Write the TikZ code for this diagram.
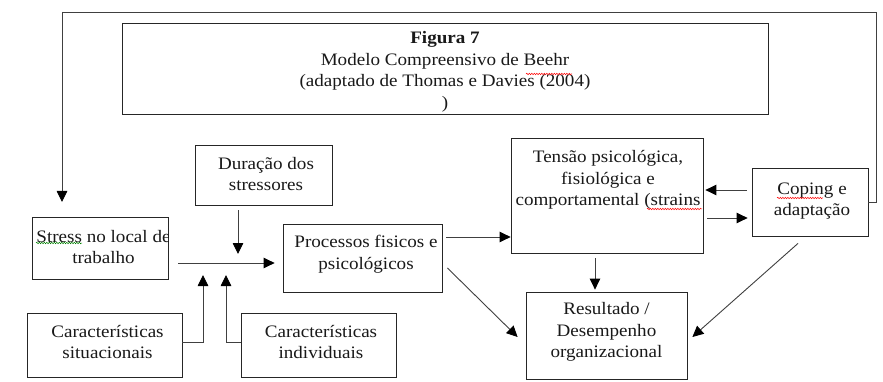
\documentclass[tikz,border=0pt]{standalone}
\usepackage{fontspec}
\setmainfont{Liberation Serif}[FakeStretch=1.09]
\usetikzlibrary{arrows.meta,calc,decorations.pathmorphing}
\begin{document}
\begin{tikzpicture}[x=1pt,y=-1pt,
  box/.style={draw=black!85, line width=0.8pt, inner sep=0pt},
  txt/.style={align=center, inner sep=0pt, font=\fontsize{17.5}{21.5}\selectfont, text=black!90},
  arr/.style={draw=black!75, line width=0.9pt, -{Triangle[length=11pt,width=10.5pt,color=black]}},
  ln/.style={draw=black!75, line width=0.9pt},
  squig/.style={line width=0.5pt, decorate, decoration={snake, amplitude=0.7pt, segment length=2.5pt}}]
\useasboundingbox (0,0) rectangle (883,382);
\fill[white] (0,0) rectangle (883,382);

% boxes
\node[box, minimum width=646pt, minimum height=91pt] (title) at (445,68.5) {};
\node[box, minimum width=136pt, minimum height=62pt] (stress) at (100,248) {};
\node[box, minimum width=137pt, minimum height=60pt] (dur) at (263.5,175) {};
\node[box, minimum width=159pt, minimum height=68pt] (proc) at (362.5,258) {};
\node[box, minimum width=155pt, minimum height=64pt] (csit) at (104.5,345) {};
\node[box, minimum width=155pt, minimum height=64pt] (cind) at (318.5,345) {};
\node[box, minimum width=192pt, minimum height=115pt] (tensao) at (607,195.5) {};
\node[box, minimum width=161pt, minimum height=87pt] (result) at (606.5,335.5) {};
\node[box, minimum width=116pt, minimum height=68pt] (coping) at (810,202) {};

% texts
\node[txt] (titletxt) at (445,72) {\textbf{Figura 7}\\Modelo Compreensivo de Beehr\\(adaptado de Thomas e Davies (2004)\\)};
\begin{scope}
  \clip (stress.south west) rectangle (stress.north east);
  \node[txt] (stresstxt) at (103.5,247) {Stress no local de\\trabalho};
\end{scope}
\node[txt] (durtxt) at (266,174) {Duração dos\\stressores};
\node[txt] (proctxt) at (366,254) {Processos fisicos e\\psicológicos};
\node[txt] (csittxt) at (107.5,342) {Características\\situacionais};
\node[txt] (cindtxt) at (321,342) {Características\\individuais};
\begin{scope}
  \clip (tensao.south west) rectangle (tensao.north east);
  \node[txt] (tensaotxt) at (608,180) {Tensão psicológica,\\fisiológica e\\comportamental (strains};
\end{scope}
\node[txt] (resulttxt) at (606.5,332) {Resultado /\\Desempenho\\organizacional};
\node[txt] (copingtxt) at (812,201) {Coping e\\adaptação};

% spell-check squiggles
\draw[squig, red] (526,74) -- (572,74);
\draw[squig, green!50!black] (36,243) -- (82,243);
\draw[squig, red] (647,209) -- (702,209);
\draw[squig, red] (777,198) -- (823,198);

% feedback loop
\coordinate (fbR) at (876,12);
\coordinate (fbL) at (62,12);
\coordinate (fbTip) at (62,202);
\draw[ln] (coping.east) -- (coping.east -| fbR) -- (fbR) -- (fbL);
\draw[arr] (fbL) -- (fbTip);

% connectors
\coordinate (hstart) at (178,263);
\draw[arr] (hstart) -- ($(proc.west |- hstart)+(-8,0)$);
\draw[arr, shorten <=5pt] (dur.south -| 238,0) -- (238,254);
\draw[arr] (csit.east |- 0,342) -- (203,342) -- (203,275);
\draw[arr] (cind.west |- 0,342) -- (226,342) -- (226,275);
\draw[arr, shorten <=4pt] (proc.east |- 0,237) -- (tensao.west |- 0,237);
\draw[arr] ($(proc.east |- 0,268)+(5,0)$) -- ($(result.west |- 0,337)+(-8,0)$);
\draw[arr, shorten <=5pt, shorten >=2pt] (tensao.south -| 595,0) -- (result.north -| 595,0);
\draw[arr] ($(coping.west |- 0,190)+(-5,0)$) -- ($(tensao.east |- 0,190)+(2,0)$);
\draw[arr] ($(tensao.east |- 0,218)+(4,0)$) -- ($(coping.west |- 0,218)+(-4,0)$);
\draw[arr] ($(coping.south -| 798,0)+(0,7)$) -- ($(result.east |- 0,337)+(5,0)$);
\end{tikzpicture}
\end{document}
